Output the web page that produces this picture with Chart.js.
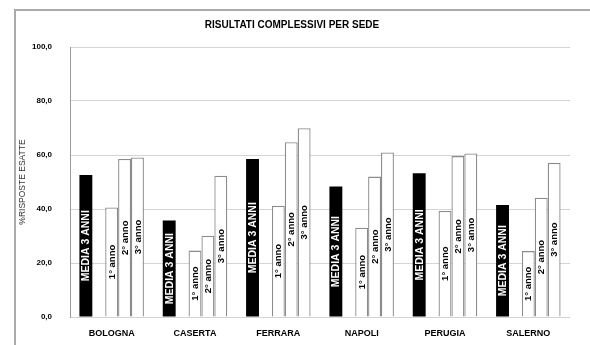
<!DOCTYPE html>
<html>
<head>
<meta charset="utf-8">
<script src="https://cdn.jsdelivr.net/npm/chart.js@4/dist/chart.umd.min.js"></script>
<style>
  html, body { margin: 0; padding: 0; background: #fff; }
  #wrap { width: 590px; height: 345px; position: relative; }
</style>
</head>
<body>
<div id="wrap"><canvas id="c" width="590" height="345"></canvas></div>
<script>
// Sedi e percentuali di risposte esatte
const sedi = ['BOLOGNA', 'CASERTA', 'FERRARA', 'NAPOLI', 'PERUGIA', 'SALERNO'];
const media3Anni = [52.6, 35.7, 58.5, 48.3, 53.2, 41.5];
const anno1 = [40.6, 24.6, 41.2, 33.1, 39.3, 24.4];
const anno2 = [58.5, 30.1, 64.7, 52.0, 59.6, 44.2];
const anno3 = [59.1, 52.3, 69.9, 60.9, 60.6, 57.1];
const yTicks = [0, 20, 40, 60, 80, 100];

const FONT = "'Liberation Sans', Arial, sans-serif";

// Cornice grigia attorno al grafico
const framePlugin = {
  id: 'frame',
  beforeDraw(chart) {
    const ctx = chart.ctx;
    ctx.save();
    ctx.strokeStyle = '#aaaaaa';
    ctx.lineWidth = 2;
    ctx.beginPath();
    ctx.moveTo(590, 10);
    ctx.lineTo(15, 10);
    ctx.lineTo(15, 345);
    ctx.stroke();
    ctx.restore();
  }
};

// Etichette verticali dentro le barre (nome della serie)
const barLabelPlugin = {
  id: 'barLabels',
  afterDatasetsDraw(chart) {
    const ctx = chart.ctx;
    chart.data.datasets.forEach((ds, di) => {
      if (!ds.label) return;
      const meta = chart.getDatasetMeta(di);
      meta.data.forEach((bar, i) => {
        if (ds.data[i] == null) return;
        const { x, y, base } = bar.getProps(['x', 'y', 'base'], true);
        ctx.save();
        ctx.translate(x, (y + base) / 2);
        ctx.rotate(-Math.PI / 2);
        ctx.font = ds.labelFont;
        ctx.fillStyle = ds.labelColor;
        ctx.textAlign = 'center';
        ctx.textBaseline = 'middle';
        ctx.fillText(ds.label, 0, 0.5);
        ctx.restore();
      });
    });
  }
};

const whiteBar = {
  backgroundColor: '#ffffff',
  borderColor: '#8c8c8c',
  borderWidth: 1.3,
  labelColor: '#000000',
  labelFont: 'bold 9.5px ' + FONT
};

new Chart(document.getElementById('c'), {
  type: 'bar',
  data: {
    labels: sedi,
    datasets: [
      {
        label: 'MEDIA 3 ANNI',
        data: media3Anni,
        backgroundColor: '#000000',
        borderColor: '#000000',
        borderWidth: 0,
        labelColor: '#ffffff',
        labelFont: 'bold 10.5px ' + FONT
      },
      { label: '', data: sedi.map(() => null) },
      Object.assign({ label: '1° anno', data: anno1 }, whiteBar),
      Object.assign({ label: '2° anno', data: anno2 }, whiteBar),
      Object.assign({ label: '3° anno', data: anno3 }, whiteBar)
    ]
  },
  options: {
    responsive: false,
    animation: false,
    devicePixelRatio: 1,
    categoryPercentage: 0.774,
    barPercentage: 1.0,
    layout: { padding: { left: 14, right: 20, top: 0, bottom: 0 } },
    plugins: {
      legend: { display: false },
      tooltip: { enabled: false },
      title: {
        display: true,
        text: 'RISULTATI COMPLESSIVI PER SEDE',
        color: '#000000',
        font: { family: FONT, size: 10, weight: 'bold', lineHeight: 1.2 },
        padding: { top: 19, bottom: 16 }
      }
    },
    scales: {
      x: {
        grid: { display: false, drawTicks: false },
        border: { display: false },
        ticks: {
          color: '#000000',
          padding: 11,
          font: { family: FONT, size: 9, weight: 'bold' }
        },
        afterFit(scale) { scale.height = 28; }
      },
      y: {
        min: 0,
        max: 100,
        afterBuildTicks(scale) { scale.ticks = yTicks.map(v => ({ value: v })); },
        grid: { color: '#d4d4d4', lineWidth: 1, drawTicks: false },
        border: { display: true, color: '#9a9a9a', width: 1 },
        ticks: {
          color: '#000000',
          padding: 18,
          font: { family: FONT, size: 8, weight: 'bold' },
          callback: v => v.toFixed(1).replace('.', ',')
        },
        title: {
          display: true,
          text: '%RISPOSTE ESATTE',
          color: '#333333',
          font: { family: FONT, size: 8.5 },
          padding: { top: 4, bottom: 0 }
        },
        afterFit(scale) { scale.width = 56; }
      }
    }
  },
  plugins: [framePlugin, barLabelPlugin]
});
</script>
</body>
</html>
